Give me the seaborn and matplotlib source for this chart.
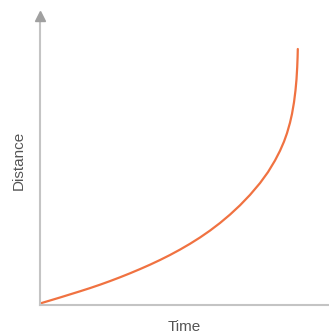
import matplotlib
matplotlib.use("Agg")
import matplotlib.pyplot as plt
import numpy as np
import pandas as pd
import seaborn as sns

sns.set_style("white")
plt.rcParams['font.family'] = ['Liberation Sans', 'DejaVu Sans']

# curve (arbitrary units)
time = [0, 10, 20, 30, 40, 50, 60, 70, 80, 90, 100, 110, 120, 130, 140, 150,
        160, 170, 180, 190, 200, 210, 220, 228, 235, 240, 244, 247, 250, 252,
        254, 255.5, 256.5, 257.2, 257.6, 257.8]
distance = [1.5, 4.5, 7.5, 10.6, 13.7, 16.9, 20.3, 23.9, 27.7, 31.7, 35.9, 40.3,
            45.0, 50.0, 55.4, 61.2, 67.5, 74.4, 82.0, 90.4, 99.7, 110.1, 121.9,
            132.9, 144.5, 154.2, 163.4, 171.8, 182.3, 191.1, 202.7, 214.7,
            225.7, 237.6, 248, 256]

df = pd.DataFrame({'Time': time, 'Distance': distance})

fig = plt.figure(figsize=(3.29, 3.34), dpi=100)
ax = fig.add_axes([40 / 329, 29 / 334, 289 / 329, 289 / 334])

sns.lineplot(data=df, x='Time', y='Distance', ax=ax, color='#f07241',
             linewidth=1.6, sort=False)

ax.set_xlim(0, 289)
ax.set_ylim(0, 289)
ax.set_xticks([])
ax.set_yticks([])
sns.despine(ax=ax)
for side in ['left', 'bottom']:
    ax.spines[side].set_color('#c4c4c4')
    ax.spines[side].set_linewidth(1.5)

# arrow head on the y axis
ax.plot([0], [289], marker='^', markersize=7, color='#a0a0a0',
        clip_on=False, zorder=5)

ax.set_xlabel('Time', fontsize=11, color='#555555', labelpad=11)
ax.set_ylabel('Distance', fontsize=11, color='#555555', labelpad=10)

fig.savefig('out.png', dpi=100)
